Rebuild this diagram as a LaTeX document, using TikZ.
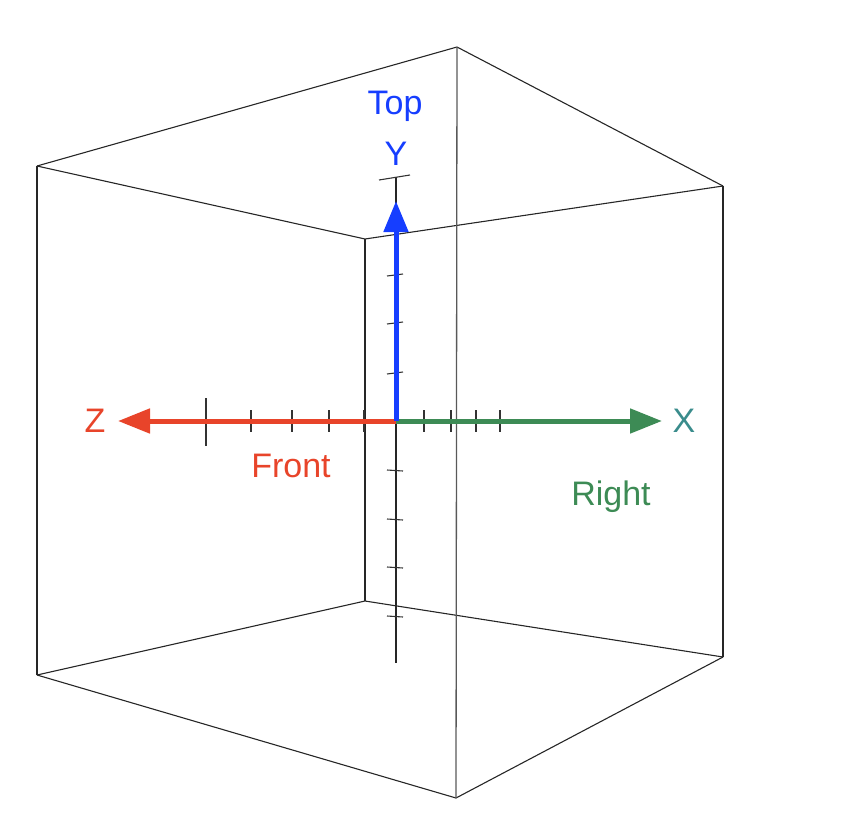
\documentclass[tikz,border=0pt]{standalone}
\usepackage{fontspec}
\setmainfont{Liberation Sans}
\usetikzlibrary{arrows.meta}
\definecolor{axblue}{RGB}{22,62,255}
\definecolor{axred}{RGB}{232,68,42}
\definecolor{axgreen}{RGB}{61,139,85}
\definecolor{axteal}{RGB}{58,140,140}
\tikzset{
  edge/.style={line width=1.1pt, draw=black!85},
  frontedge/.style={line width=1.3pt, draw=black!65},
  thin axis/.style={line width=1.2pt, draw=black!85},
  tick/.style={line width=1.1pt, draw=black!80},
  axis/.style={line width=5pt, line cap=butt},
  lbl/.style={font=\fontsize{34}{34}\selectfont, inner sep=0pt},
}
\begin{document}
\begin{tikzpicture}[x=1pt,y=-1pt]
\useasboundingbox (0,0) rectangle (846,836);
% box corners
\coordinate (ftl) at (37,166);
\coordinate (fbl) at (37,675);
\coordinate (top) at (457,47);
\coordinate (rt) at (723,186);
\coordinate (rb) at (723,657);
\coordinate (bot) at (456,798);
\coordinate (it) at (365,239);
\coordinate (ib) at (365,601);
% box edges
\draw[edge] (ftl) -- (top) -- (rt);
\draw[edge] (ftl) -- (it) -- (rt);
\draw[edge] (fbl) -- (ib) -- (rb);
\draw[edge] (fbl) -- (bot) -- (rb);
\draw[edge] (ftl) -- (fbl);
\draw[edge] (rt) -- (rb);
\draw[edge] (it) -- (ib);
\draw[frontedge] (top) -- (bot);
% axes
\coordinate (o) at (396,421);
\coordinate (ytop) at (396,177);
\coordinate (ybot) at (396,663);
\coordinate (ytip) at (396,201);
\coordinate (xtip) at (662,421);
\coordinate (ztip) at (118,421);
\draw[thin axis] (ytop) -- (ybot);
\draw[tick] (379,180) -- (410,175);
% ticks on y
\foreach \y in {275,323,373} \draw[tick] (387,\y+1) -- (403,\y-1);
\foreach \y in {470,519,567,616} \draw[tick] (387,\y) -- (403,\y+1);
% ticks on z
\draw[tick] (206,398) -- (206,446);
\foreach \x in {251,292,329,364} \draw[tick] (\x,410) -- (\x,432);
% ticks on x
\foreach \x in {424,451,476,500} \draw[tick] (\x,410) -- (\x,432);
% colored axes
\draw[axis, draw=axgreen, -{Triangle[length=32pt,width=24pt]}] (o) -- (xtip);
\draw[axis, draw=axred, -{Triangle[length=32pt,width=24pt]}] (o) -- (ztip);
\draw[axis, draw=axblue, -{Triangle[length=31pt,width=24pt]}] (o) -- (ytip);
% labels
\node[lbl, text=axblue] (ltop) at (395,106) {Top};
\node[lbl, text=axblue] (ly) at (396,154) {Y};
\node[lbl, text=axred] (lz) at (95,421) {Z};
\node[lbl, text=axteal] (lx) at (684,421) {X};
\node[lbl, text=axred] (lfront) at (291,466) {Front};
\node[lbl, text=axgreen] (lright) at (611,497) {Right};
\end{tikzpicture}
\end{document}
